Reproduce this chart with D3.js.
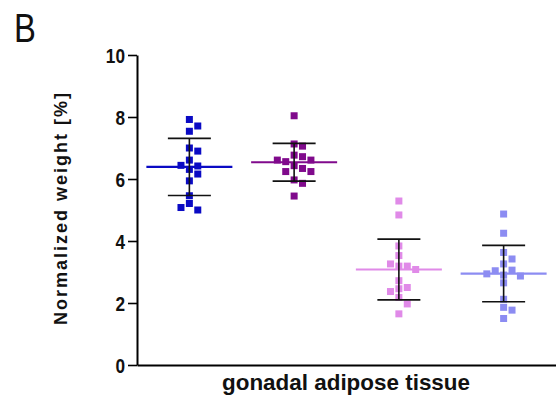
<!DOCTYPE html>
<html>
<head>
<meta charset="utf-8">
<script src="https://cdn.jsdelivr.net/npm/d3@7"></script>
<style>
  html, body { margin: 0; padding: 0; background: #fff; }
  svg { display: block; }
</style>
</head>
<body>
<svg id="chart" width="556" height="410"></svg>
<script>
// ---- data ----
const groups = ["g1", "g2", "g3", "g4"];
const colors = ["#0a0ac4", "#800a8c", "#e08ae8", "#8c8cf2"];
const g1Values = [7.92, 7.71, 7.54, 7.00, 6.90, 6.61, 6.42, 6.44, 6.31, 6.16, 5.94, 5.46, 5.21, 5.00, 5.08];
const g2Values = [8.04, 7.13, 7.06, 6.77, 6.72, 6.56, 6.61, 6.61, 6.43, 6.34, 6.24, 6.24, 5.97, 5.86, 5.45];
const g3Values = [5.29, 4.84, 3.84, 3.53, 3.19, 3.19, 3.26, 3.08, 2.72, 2.50, 2.46, 2.37, 2.18, 1.97, 1.65];
const g4Values = [4.87, 4.25, 3.63, 3.42, 3.26, 3.06, 3.04, 2.90, 2.87, 2.94, 2.65, 2.12, 1.86, 1.77, 1.50];
const means = [6.39, 6.54, 3.08, 2.95];
const sds = [0.92, 0.61, 0.98, 0.91];
const yTicks = [0, 2, 4, 6, 8, 10];
const xLabel = "gonadal adipose tissue";
const yLabel = "Normalized weight [%]";
const panelLabel = "B";

const allValues = [g1Values, g2Values, g3Values, g4Values];

// ---- layout ----
const svg = d3.select("#chart");
const mLeft = 137, mRight = 556, mTop = 55, mBottom = 365;

const x = d3.scaleBand().domain(groups).range([mLeft, mRight]).padding(0);
const y = d3.scaleLinear().domain([0, 10]).range([mBottom, mTop]);

const markerSize = 7;
const colStep = 8.4;
const meanHalf = 43;
const capHalf = 21.5;
const narrow = 0.82;

// y axis
const yAxis = svg.append("g")
  .attr("transform", `translate(${mLeft},0)`)
  .call(d3.axisLeft(y).tickValues(yTicks).tickSize(9).tickSizeOuter(0).tickPadding(3));
yAxis.select(".domain").attr("stroke", "#000").attr("stroke-width", 2);
yAxis.selectAll(".tick line").attr("stroke", "#000").attr("stroke-width", 1.6);
yAxis.selectAll(".tick text")
  .attr("fill", "#111")
  .attr("x", -12 / narrow)
  .attr("dy", "0.36em")
  .attr("transform", `scale(${narrow},1)`)
  .style("font-family", "'Liberation Sans', Arial, sans-serif")
  .style("font-weight", "bold")
  .style("font-size", "21px");

// x axis
const xAxis = svg.append("g")
  .attr("transform", `translate(0,${mBottom})`)
  .call(d3.axisBottom(x).tickSize(0).tickSizeOuter(0).tickFormat(""));
xAxis.select(".domain").attr("stroke", "#000").attr("stroke-width", 2.2);

// points with simple column spreading
groups.forEach((g, i) => {
  const cx = x(g) + x.bandwidth() / 2;
  const placed = [];
  const order = [0, 1, -1, 2, -2, 3, -3];
  allValues[i].forEach(v => {
    const py = y(v);
    let col = 0;
    for (const c of order) {
      const clash = placed.some(p => p.col === c && Math.abs(p.py - py) < markerSize);
      if (!clash) { col = c; break; }
    }
    placed.push({ col, py, v });
  });
  svg.append("g").selectAll("rect")
    .data(placed)
    .join("rect")
    .attr("x", d => cx + d.col * colStep - markerSize / 2)
    .attr("y", d => d.py - markerSize / 2)
    .attr("width", markerSize)
    .attr("height", markerSize)
    .attr("fill", colors[i]);

  // mean line
  svg.append("line")
    .attr("x1", cx - meanHalf).attr("x2", cx + meanHalf)
    .attr("y1", y(means[i])).attr("y2", y(means[i]))
    .attr("stroke", colors[i]).attr("stroke-width", 2.2);

  // error bar
  const eb = svg.append("g").attr("stroke", "#111").attr("stroke-width", 1.6);
  eb.append("line")
    .attr("x1", cx).attr("x2", cx)
    .attr("y1", y(means[i] + sds[i])).attr("y2", y(means[i] - sds[i]));
  [means[i] + sds[i], means[i] - sds[i]].forEach(v => {
    eb.append("line")
      .attr("x1", cx - capHalf).attr("x2", cx + capHalf)
      .attr("y1", y(v)).attr("y2", y(v));
  });
});

// labels
svg.append("text")
  .attr("x", 346).attr("y", 390)
  .attr("text-anchor", "middle")
  .attr("textLength", 248)
  .attr("lengthAdjust", "spacingAndGlyphs")
  .style("font-family", "'Liberation Sans', Arial, sans-serif")
  .style("font-weight", "bold")
  .style("font-size", "22px")
  .attr("fill", "#111")
  .text(xLabel);

svg.append("text")
  .attr("transform", "translate(67,209) rotate(-90)")
  .attr("text-anchor", "middle")
  .attr("textLength", 232)
  .attr("lengthAdjust", "spacing")
  .style("font-family", "'Liberation Sans', Arial, sans-serif")
  .style("font-weight", "bold")
  .style("font-size", "18px")
  .attr("fill", "#111")
  .text(yLabel);

svg.append("text")
  .attr("transform", `translate(14,42) scale(${narrow},1)`)
  .style("font-family", "'Liberation Sans', Arial, sans-serif")
  .style("font-size", "40px")
  .attr("fill", "#111")
  .text(panelLabel);
</script>
</body>
</html>
